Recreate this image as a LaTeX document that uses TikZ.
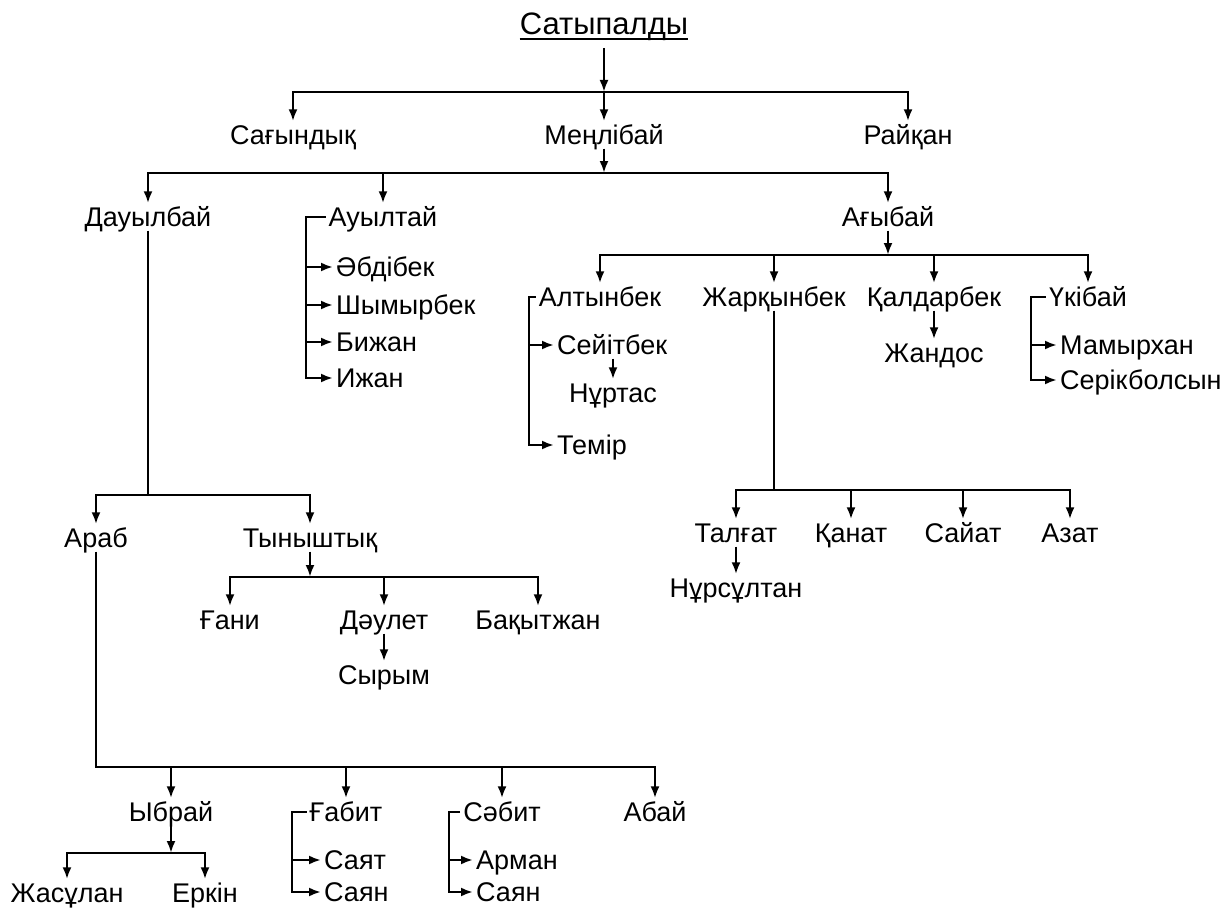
\documentclass[tikz,border=0pt]{standalone}
\usepackage{fontspec}
\setmainfont{Liberation Sans}
\usetikzlibrary{arrows.meta}
\begin{document}
\begin{tikzpicture}[x=1pt,y=-1pt,
  nm/.style={font=\fontsize{27}{30}\selectfont, inner xsep=3pt, inner ysep=0pt, text height=23.2pt, text depth=3.8pt},
  ln/.style={line width=2.3pt},
  arr/.style={ln, -{Latex[length=12pt,width=9pt]}}]
\useasboundingbox[fill=white] (0,0) rectangle (1226,915);

% root
\node[font=\fontsize{31}{34}\selectfont, inner sep=0pt, anchor=base] (Sat) at (604,35) {Сатыпалды};
\draw[line width=1.8pt] ([yshift=-4pt]Sat.base west) -- ([yshift=-4pt]Sat.base east);

% level 1
\node[nm] (Sag) at (293,135) {Сағындық};
\node[nm] (Men) at (604,135) {Меңлібай};
\node[nm] (Rai) at (908,135) {Райқан};
\coordinate (j1) at (604,92);
\draw[arr] ([yshift=-13pt]Sat.base) -- (j1);
\draw[arr] (j1) -| (Sag.north);
\draw[arr] (j1) -| (Rai.north);
\draw[arr] (j1) -- (Men.north);

% level 2
\node[nm] (Dau) at (148,217) {Дауылбай};
\node[nm] (Auyl) at (383,217) {Ауылтай};
\node[nm] (Agy) at (888,217) {Ағыбай};
\coordinate (j2) at (604,173);
\draw[arr] (Men.south) -- (j2);
\draw[arr] (j2) -| (Dau.north);
\draw[arr] (j2) -| (Agy.north);
\draw[arr] (Auyl.north |- j2) -- (Auyl.north);

% Ауылтай children
\node[nm, anchor=west] (Abd) at (333,267) {Әбдібек};
\node[nm, anchor=west] (Shy) at (333,305) {Шымырбек};
\node[nm, anchor=west] (Bij) at (333,342) {Бижан};
\node[nm, anchor=west] (Izh) at (333,378) {Ижан};
\coordinate (k1) at (306,217);
\draw[arr] (Auyl.west) -- (k1) |- (Izh.west);
\foreach \n in {Abd,Shy,Bij} \draw[arr] (k1 |- \n.west) -- (\n.west);

% Дауылбай children
\node[nm] (Arab) at (96,538) {Араб};
\node[nm] (Tyn) at (310,538) {Тыныштық};
\coordinate (j3) at (148,495);
\draw[ln] (Dau.south) -- (j3);
\draw[arr] (j3) -| (Arab.north);
\draw[arr] (j3) -| (Tyn.north);

% Тыныштық children
\node[nm] (Gani) at (230,620) {Ғани};
\node[nm] (Daul) at (384,620) {Дәулет};
\node[nm] (Baq) at (538,620) {Бақытжан};
\node[nm] (Syr) at (384,675) {Сырым};
\coordinate (j4) at (310,577);
\draw[arr] (Tyn.south) -- (j4);
\draw[arr] (j4) -| (Gani.north);
\draw[arr] (j4) -| (Baq.north);
\draw[arr] (Daul.north |- j4) -- (Daul.north);
\draw[arr] (Daul.south) -- (Syr.north);

% Араб children
\node[nm] (Ybr) at (171,812) {Ыбрай};
\node[nm] (Gab) at (346,812) {Ғабит};
\node[nm] (Sab) at (502,812) {Сәбит};
\node[nm] (Abai) at (655,812) {Абай};
\coordinate (j5) at (96,767);
\draw[arr] (Arab.south) -- (j5) -| (Abai.north);
\foreach \n in {Ybr,Gab,Sab} \draw[arr] (\n.north |- j5) -- (\n.north);

% Ыбрай children
\node[nm] (Zhas) at (67,893) {Жасұлан};
\node[nm] (Erk) at (205,893) {Еркін};
\coordinate (j6) at (171,853);
\draw[arr] (Ybr.south) -- (j6);
\draw[arr] (j6) -| (Zhas.north);
\draw[arr] (j6) -| (Erk.north);

% Ғабит children
\node[nm, anchor=west] (Sayat) at (321,860) {Саят};
\node[nm, anchor=west] (Sayan) at (321,892) {Саян};
\coordinate (k2) at (292,812);
\draw[arr] (Gab.west) -- (k2) |- (Sayan.west);
\draw[arr] (k2 |- Sayat.west) -- (Sayat.west);

% Сәбит children
\node[nm, anchor=west] (Arm) at (473,860) {Арман};
\node[nm, anchor=west] (Sayanb) at (473,892) {Саян};
\coordinate (k3) at (449,812);
\draw[arr] (Sab.west) -- (k3) |- (Sayanb.west);
\draw[arr] (k3 |- Arm.west) -- (Arm.west);

% Ағыбай children
\node[nm] (Alt) at (600,297) {Алтынбек};
\node[nm] (Zhar) at (774,297) {Жарқынбек};
\node[nm] (Kal) at (934,297) {Қалдарбек};
\node[nm] (Uki) at (1088,297) {Үкібай};
\coordinate (j7) at (888,255);
\draw[arr] (Agy.south) -- (j7);
\draw[arr] (j7) -| (Alt.north);
\draw[arr] (j7) -| (Uki.north);
\draw[arr] (Zhar.north |- j7) -- (Zhar.north);
\draw[arr] (Kal.north |- j7) -- (Kal.north);

% Алтынбек children
\node[nm, anchor=west] (Sey) at (554,345) {Сейітбек};
\node[nm] (Nurt) at (613,393) {Нұртас};
\node[nm, anchor=west] (Tem) at (554,445) {Темір};
\coordinate (k4) at (529,297);
\draw[arr] (Alt.west) -- (k4) |- (Tem.west);
\draw[arr] (k4 |- Sey.west) -- (Sey.west);
\draw[arr] (Nurt.north |- Sey.south) -- (Nurt.north);

% Жарқынбек children
\node[nm] (Tal) at (736,533) {Талғат};
\node[nm] (Kan) at (851,533) {Қанат};
\node[nm] (Sai) at (963,533) {Сайат};
\node[nm] (Aza) at (1070,533) {Азат};
\node[nm] (Nurs) at (736,588) {Нұрсұлтан};
\coordinate (j8) at (774,490);
\draw[ln] (Zhar.south) -- (j8);
\draw[arr] (j8) -| (Tal.north);
\draw[arr] (j8) -| (Aza.north);
\draw[arr] (Kan.north |- j8) -- (Kan.north);
\draw[arr] (Sai.north |- j8) -- (Sai.north);
\draw[arr] (Tal.south) -- (Nurs.north);

% Қалдарбек child
\node[nm] (Zhan) at (934,353) {Жандос};
\draw[arr] (Kal.south) -- (Zhan.north);

% Үкібай children
\node[nm, anchor=west] (Mam) at (1057,345) {Мамырхан};
\node[nm, anchor=west] (Ser) at (1057,380) {Серікболсын};
\coordinate (k5) at (1031,297);
\draw[arr] (Uki.west) -- (k5) |- (Ser.west);
\draw[arr] (k5 |- Mam.west) -- (Mam.west);
\end{tikzpicture}
\end{document}
